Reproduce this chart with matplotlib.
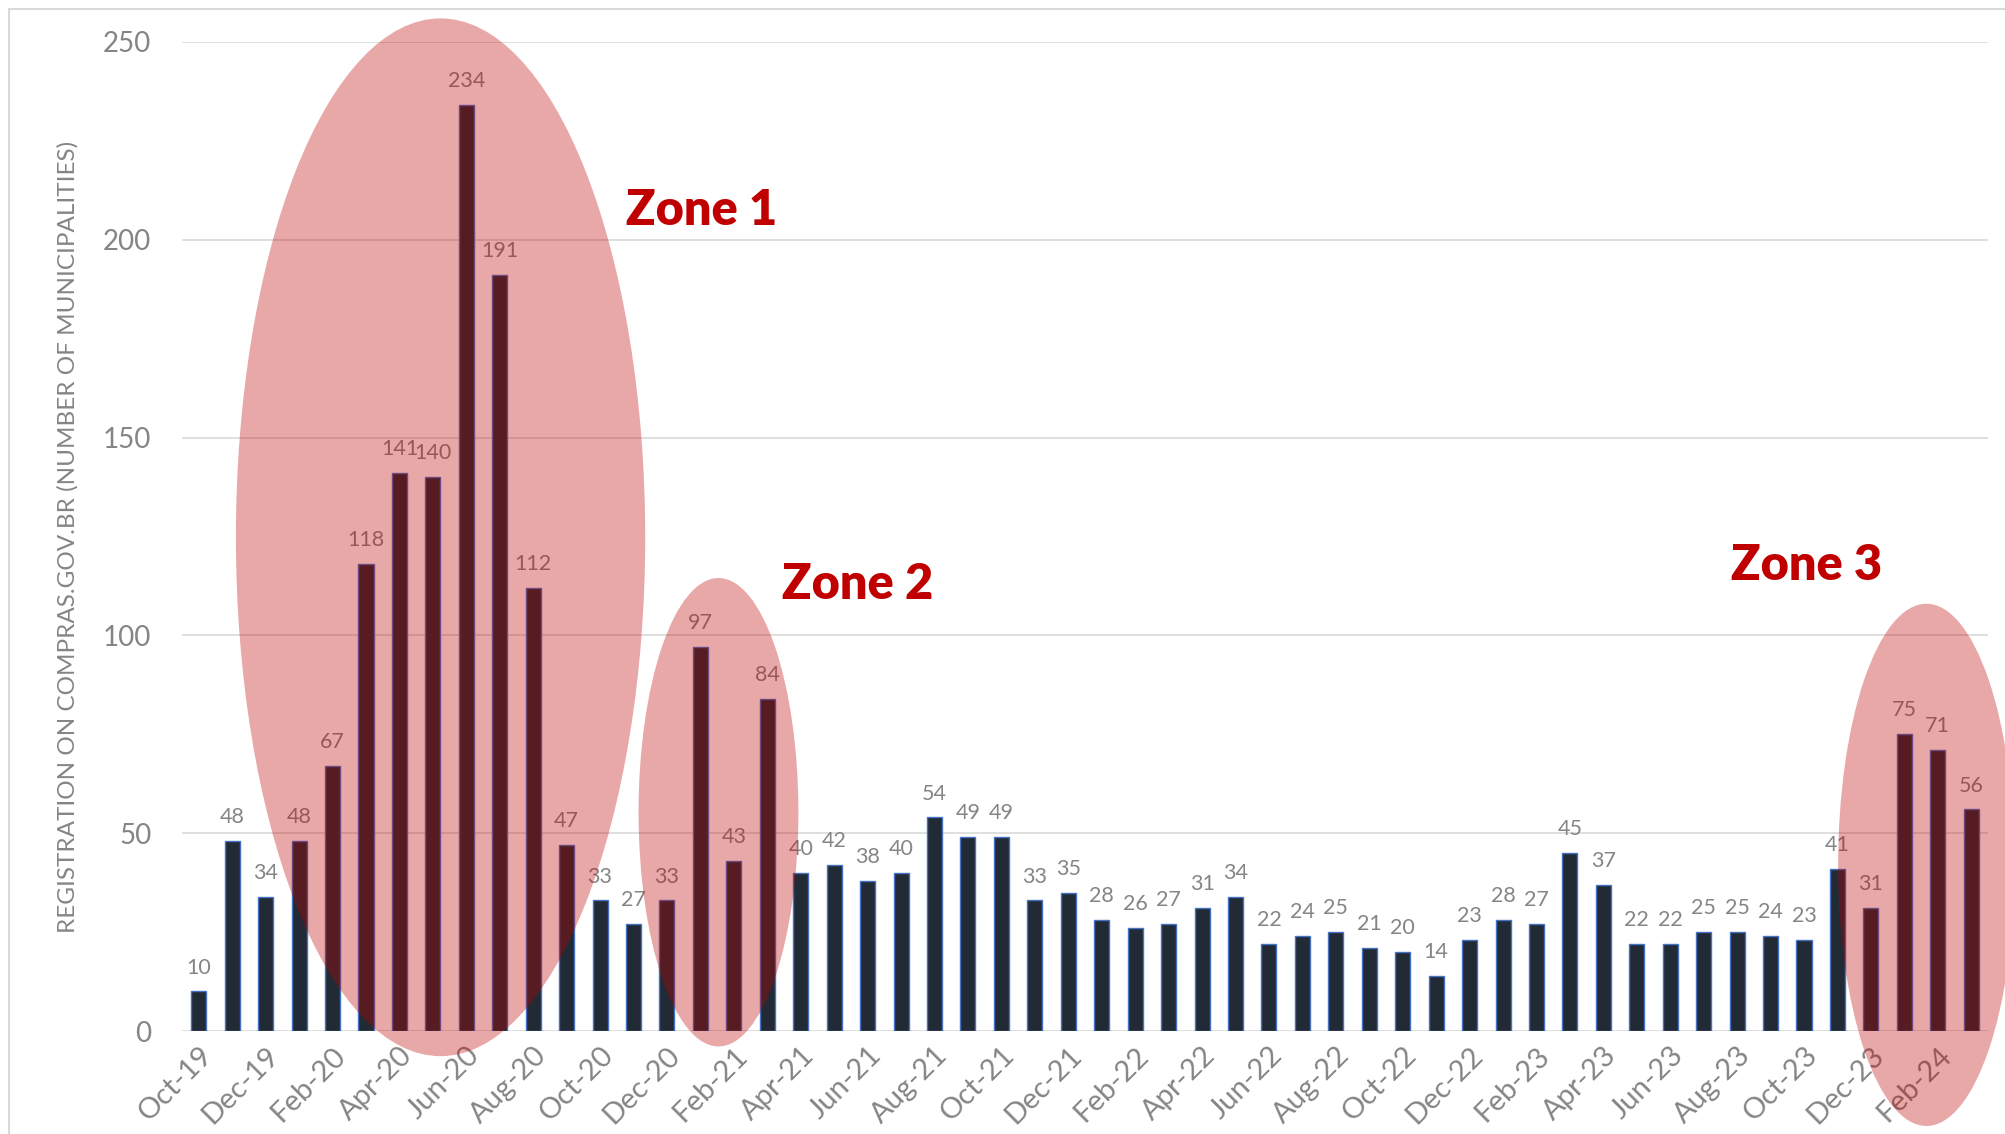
import matplotlib
matplotlib.use("Agg")
import matplotlib.pyplot as plt
from matplotlib.patches import Ellipse, Rectangle

# Monthly registrations, Oct-19 .. Mar-24
values = [10, 48, 34, 48, 67, 118, 141, 140, 234, 191, 112, 47,
          33, 27, 33, 97, 43, 84, 40, 42, 38, 40, 54, 49,
          49, 33, 35, 28, 26, 27, 31, 34, 22, 24, 25, 21,
          20, 14, 23, 28, 27, 45, 37, 22, 22, 25, 25, 24,
          23, 41, 31, 75, 71, 56]

tick_labels = ["Oct-19", "Dec-19", "Feb-20", "Apr-20", "Jun-20", "Aug-20", "Oct-20",
               "Dec-20", "Feb-21", "Apr-21", "Jun-21", "Aug-21", "Oct-21", "Dec-21",
               "Feb-22", "Apr-22", "Jun-22", "Aug-22", "Oct-22", "Dec-22", "Feb-23",
               "Apr-23", "Jun-23", "Aug-23", "Oct-23", "Dec-23", "Feb-24"]

zone_names = ["Zone 1", "Zone 2", "Zone 3"]
# ellipse centre (bar index, value), width (bars), height (value units)
zone_ellipses = [(7.23, 124.8, 12.24, 262.3),
                 (15.54, 55.3, 4.78, 118.4),
                 (51.66, 42.0, 5.28, 132.0)]
zone_text_pos = [(15.03, 207.3), (19.69, 112.9), (48.07, 117.7)]

plt.rcParams['font.family'] = ['Lato', 'DejaVu Sans']
GRAY = "#858585"

fig = plt.figure(figsize=(20.05, 11.34), dpi=100)
ax = fig.add_axes([0.0908, 0.0908, 0.9007, 0.8722])

x = list(range(len(values)))
ax.bar(x, values, width=0.45, color="#222a35", edgecolor="#4472c4",
       linewidth=1.0, zorder=2)

for xi, v in zip(x, values):
    ax.annotate(str(v), (xi, v), xytext=(0, 10), textcoords="offset points",
                ha="center", va="bottom", fontsize=15.5, color=GRAY, zorder=3)

for (cx, cy, w, h) in zone_ellipses:
    e = Ellipse((cx, cy), w, h, facecolor="#be0000", alpha=0.34,
                edgecolor="none", zorder=4, clip_on=False)
    ax.add_patch(e)

for name, (tx, ty) in zip(zone_names, zone_text_pos):
    ax.text(tx, ty, name, ha="center", va="center", fontsize=35,
            fontweight="heavy", color="#c00000", zorder=5)

ax.set_xlim(-0.5, len(values) - 0.5)
ax.set_ylim(0, 250)
ax.set_yticks([0, 50, 100, 150, 200, 250])
ax.set_xticks(x[::2])
ax.set_xticklabels(tick_labels, rotation=45, ha="right",
                   rotation_mode="anchor", fontsize=21, color=GRAY)
ax.tick_params(axis="y", labelsize=20, labelcolor=GRAY, length=0, pad=22)
ax.tick_params(axis="x", length=0, pad=8)
ax.grid(axis="y", color="#d9d9d9", linewidth=1.2, zorder=0)
ax.set_axisbelow(True)
for s in ax.spines.values():
    s.set_visible(False)

ax.set_ylabel("REGISTRATION ON COMPRAS.GOV.BR (NUMBER OF MUNICIPALITIES)",
              fontsize=17.5, color=GRAY, labelpad=18)

# outer chart frame
fig.patches.append(Rectangle((9 / 2005, -0.1), 1.2, 1.1 - 9 / 1134,
                             transform=fig.transFigure, fill=False,
                             edgecolor="#d9d9d9", linewidth=1.5, zorder=0))

fig.savefig("out.png", dpi=100)
